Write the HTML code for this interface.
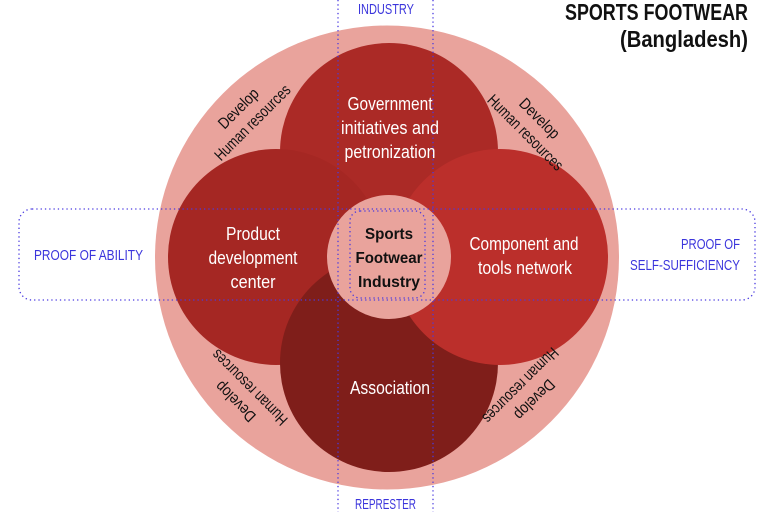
<!DOCTYPE html>
<html><head><meta charset="utf-8"><style>
html,body{margin:0;padding:0;background:#fff;width:768px;height:512px;overflow:hidden}
svg{display:block}
text{font-family:"Liberation Sans",sans-serif}
.w{fill:#fff;font-size:18px}
.b{fill:#3b35dc;font-size:15px}
.k{fill:#111;font-size:16px}
</style></head><body>
<svg width="768" height="512" viewBox="0 0 768 512">
<circle cx="387" cy="257.5" r="232" fill="#e9a39c"/>
<circle cx="389" cy="152" r="109" fill="#ab2a26"/>
<circle cx="276" cy="257" r="108" fill="#a52723"/>
<circle cx="389" cy="363" r="109" fill="#7f1e1a"/>
<circle cx="500" cy="257" r="108" fill="#bb2f2b"/>
<circle cx="389" cy="257" r="62" fill="#e9a39c"/>
<g stroke="#4a3be0" stroke-width="1.3" stroke-dasharray="1.3 3" fill="none">
<line x1="338" y1="0" x2="338" y2="512"/>
<line x1="433" y1="0" x2="433" y2="512"/>
<rect x="19" y="209" width="736" height="91" rx="13"/>
<rect x="350" y="211" width="75" height="87" rx="10"/>
</g>
<g font-weight="bold" text-anchor="middle">
<text x="389" y="239" class="k" font-size="17" textLength="48" lengthAdjust="spacingAndGlyphs">Sports</text>
<text x="389" y="263" class="k" font-size="17" textLength="67" lengthAdjust="spacingAndGlyphs">Footwear</text>
<text x="389" y="287" class="k" font-size="17" textLength="62" lengthAdjust="spacingAndGlyphs">Industry</text>
</g>
<g text-anchor="middle" class="w">
<text x="390" y="110" class="w" textLength="85" lengthAdjust="spacingAndGlyphs">Government</text>
<text x="390" y="134" class="w" textLength="98" lengthAdjust="spacingAndGlyphs">initiatives and</text>
<text x="390" y="158" class="w" textLength="91" lengthAdjust="spacingAndGlyphs">petronization</text>
<text x="253" y="240" class="w" textLength="54" lengthAdjust="spacingAndGlyphs">Product</text>
<text x="253" y="264" class="w" textLength="89" lengthAdjust="spacingAndGlyphs">development</text>
<text x="253" y="288" class="w" textLength="45" lengthAdjust="spacingAndGlyphs">center</text>
<text x="524" y="250" class="w" textLength="109" lengthAdjust="spacingAndGlyphs">Component and</text>
<text x="525" y="274" class="w" textLength="94" lengthAdjust="spacingAndGlyphs">tools network</text>
<text x="390" y="394" class="w" textLength="80" lengthAdjust="spacingAndGlyphs">Association</text>
</g>
<g text-anchor="middle" fill="#111" font-size="16">
<g transform="translate(245,115) rotate(-45)">
<text x="0" y="-4" textLength="50" lengthAdjust="spacingAndGlyphs">Develop</text>
<text x="0" y="16" textLength="100" lengthAdjust="spacingAndGlyphs">Human resources</text></g>
<g transform="translate(533,125) rotate(45)">
<text x="0" y="-4" textLength="50" lengthAdjust="spacingAndGlyphs">Develop</text>
<text x="0" y="16" textLength="100" lengthAdjust="spacingAndGlyphs">Human resources</text></g>
<g transform="translate(242,395) rotate(-135)">
<text x="0" y="-4" textLength="50" lengthAdjust="spacingAndGlyphs">Develop</text>
<text x="0" y="16" textLength="100" lengthAdjust="spacingAndGlyphs">Human resources</text></g>
<g transform="translate(528,393) rotate(135)">
<text x="0" y="-4" textLength="50" lengthAdjust="spacingAndGlyphs">Develop</text>
<text x="0" y="16" textLength="100" lengthAdjust="spacingAndGlyphs">Human resources</text></g>
</g>
<text x="358" y="14" class="b" font-size="13" textLength="56" lengthAdjust="spacingAndGlyphs">INDUSTRY</text>
<text x="355" y="509" class="b" font-size="14" textLength="61" lengthAdjust="spacingAndGlyphs">REPRESTER</text>
<text x="34" y="260" class="b" textLength="109" lengthAdjust="spacingAndGlyphs">PROOF OF ABILITY</text>
<text x="681" y="249" class="b" textLength="59" lengthAdjust="spacingAndGlyphs">PROOF OF</text>
<text x="630" y="270" class="b" textLength="110" lengthAdjust="spacingAndGlyphs">SELF-SUFFICIENCY</text>
<text x="565" y="20" font-size="23" font-weight="bold" fill="#111" textLength="183" lengthAdjust="spacingAndGlyphs">SPORTS FOOTWEAR</text>
<text x="620" y="47" font-size="23" font-weight="bold" fill="#111" textLength="128" lengthAdjust="spacingAndGlyphs">(Bangladesh)</text>
</svg>
</body></html>
